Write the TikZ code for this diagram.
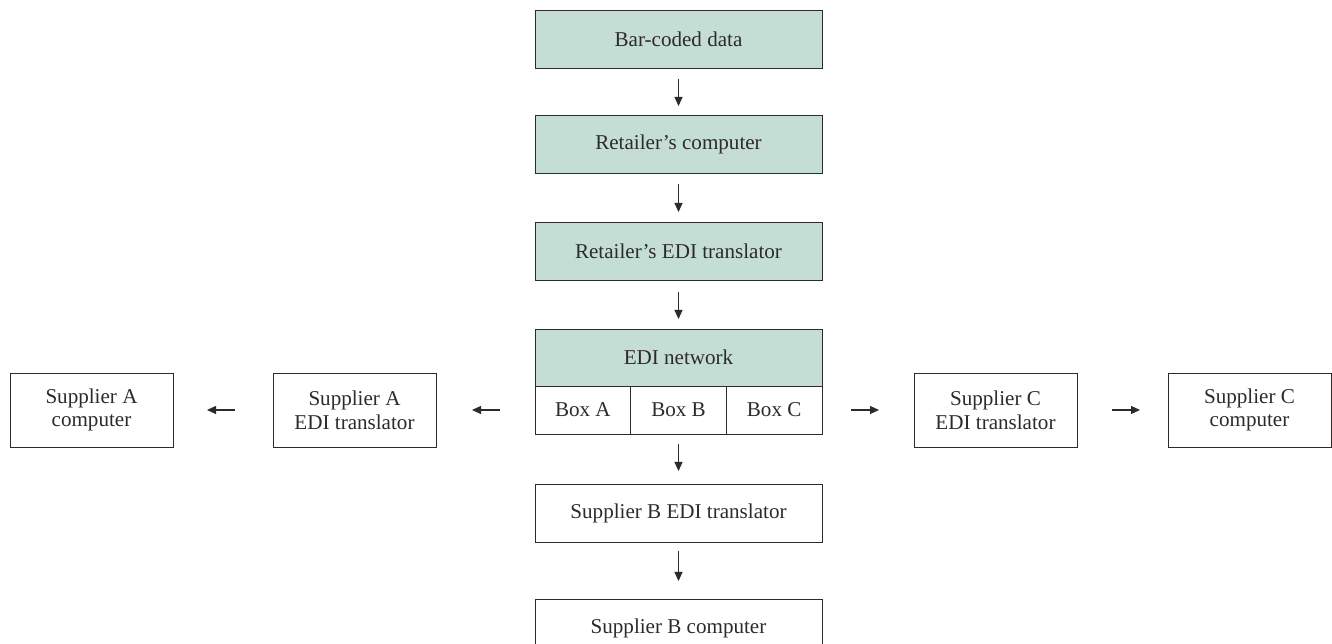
\documentclass[tikz,border=0pt]{standalone}
\usepackage{fontspec}
\setmainfont{Liberation Serif}
\usetikzlibrary{arrows.meta,positioning}
\definecolor{edigreen}{RGB}{197,222,213}
\definecolor{edigray}{RGB}{45,42,42}
\tikzset{
  blk/.style={draw=edigray,rectangle,line width=0.5pt,outer sep=0pt,align=center,
    text=edigray,font=\fontsize{12}{13.5}\selectfont},
  flowblk/.style={blk,minimum width=5.74cm,minimum height=1.16cm},
  shdblk/.style={flowblk,fill=edigreen},
  netblk/.style={blk,fill=edigreen,minimum width=5.74cm,minimum height=1.14cm},
  cellblk/.style={blk,minimum width=1.9133cm,minimum height=0.96cm},
  sideblk/.style={blk,minimum width=3.26cm,minimum height=1.48cm},
  arr/.style={-{Triangle[length=0.18cm,width=0.16cm]},line width=0.6pt,draw=edigray},
  cut/.style 2 args={shorten <=#1,shorten >=#2}
}
\begin{document}
\begin{tikzpicture}
  \useasboundingbox (0,0) rectangle (26.64,12.88);

  % retailer side
  \node[shdblk] (bar) at (13.57,12.10) {Bar-coded data};
  \node[shdblk, below=0.94cm of bar] (rcomp) {Retailer's computer};
  \node[shdblk, below=0.98cm of rcomp] (rtrans) {Retailer's EDI translator};

  % network with mailboxes
  \node[netblk, below=0.98cm of rtrans] (net) {EDI network};
  \node[cellblk, anchor=north west] (boxa) at (net.south west) {Box A};
  \node[cellblk, right=0pt of boxa] (boxb) {Box B};
  \node[cellblk, right=0pt of boxb] (boxc) {Box C};

  % suppliers
  \node[sideblk, left=1.98cm of boxa] (atrans) {Supplier A\\EDI translator};
  \node[sideblk, left=2.0cm of atrans] (acomp) {Supplier A\\computer};
  \node[sideblk, right=1.84cm of boxc] (ctrans) {Supplier C\\EDI translator};
  \node[sideblk, right=1.82cm of ctrans] (ccomp) {Supplier C\\computer};
  \node[flowblk, below=1.0cm of boxb] (btrans) {Supplier B EDI translator};
  \node[flowblk, below=1.14cm of btrans] (bcomp) {Supplier B computer};

  \draw[arr,cut={0.22cm}{0.18cm}] (bar) -- (rcomp);
  \draw[arr,cut={0.22cm}{0.2cm}] (rcomp) -- (rtrans);
  \draw[arr,cut={0.24cm}{0.2cm}] (rtrans) -- (net);
  \draw[arr,cut={0.2cm}{0.26cm}] (boxb) -- (btrans);
  \draw[arr,cut={0.18cm}{0.36cm}] (btrans) -- (bcomp);
  \draw[arr,cut={0.7cm}{0.72cm}] (boxa) -- (atrans);
  \draw[arr,cut={0.76cm}{0.68cm}] (atrans) -- (acomp);
  \draw[arr,cut={0.58cm}{0.7cm}] (boxc) -- (ctrans);
  \draw[arr,cut={0.7cm}{0.56cm}] (ctrans) -- (ccomp);
\end{tikzpicture}
\end{document}
